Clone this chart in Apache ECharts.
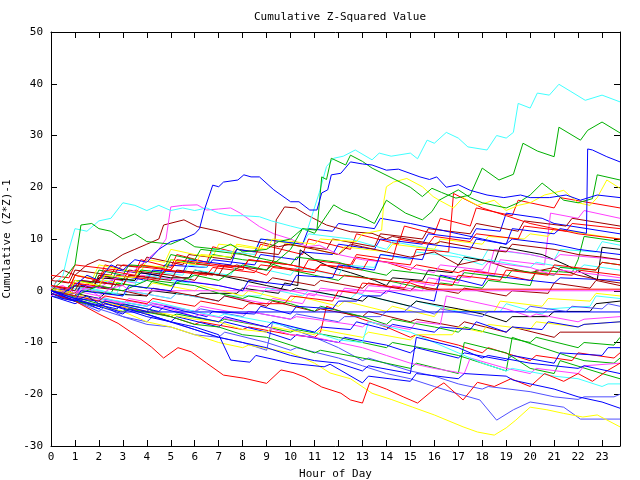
<!DOCTYPE html>
<html><head><meta charset="utf-8">
<script src="https://cdn.jsdelivr.net/npm/echarts@6/dist/echarts.min.js"></script>
<style>html,body{margin:0;padding:0;background:#fff}#c{width:640px;height:480px}</style>
</head><body><div id="c"></div>
<script>
// x ticks (hours) and y ticks
const hourTicks = [0,1,2,3,4,5,6,7,8,9,10,11,12,13,14,15,16,17,18,19,20,21,22,23];
const valueTicks = [-30,-20,-10,0,10,20,30,40,50];

// series: [hour, cumulative value]
const cyanTop = [[0,0.5],[0.5,3],[0.75,8],[1,12],[1.5,11.5],[2,13.5],[2.5,14],[3,17],[3.5,16.5],[4,15.5],[4.5,16.5],[5,15.5],[5.5,16],[6,15.5],[6.5,16],[7,15],[7.5,14.5],[8,14.5],[8.7,14.3],[9.2,13.5],[10,12.5],[10.7,11.7],[11.2,19],[11.5,24],[11.8,25.6],[12.2,26],[12.7,27.2],[13.4,25.3],[13.7,26.6],[14.2,26],[15,26.6],[15.3,25.5],[15.7,29.1],[16,28.5],[16.5,30.6],[17,29.5],[17.4,27.8],[18.2,27.2],[18.6,30],[19,29.5],[19.3,30.6],[19.5,36.2],[20,35.3],[20.3,38.2],[20.8,37.8],[21.2,39.9],[21.7,38.5],[22.3,36.8],[23,37.8],[23.75,36.5]];
const greenTop = [[0,0],[0.5,2],[1,5],[1.25,12.7],[1.7,13],[2,12],[2.5,11.5],[3,10],[3.5,11],[4,9.5],[5,9],[5.5,10],[6,8.5],[7,8],[7.5,9],[8,7.5],[9,8],[9.5,9.5],[10,10],[10.5,12],[11.1,11.7],[11.3,22],[11.5,21.5],[11.7,25.6],[12.3,24.3],[12.5,26.2],[13,25],[13.4,23.7],[14.4,21.4],[15,20],[15.5,18.2],[15.9,19.8],[16.3,19],[16.9,17.9],[17.5,18.5],[18,23.7],[18.7,21.4],[19.3,22.5],[19.7,28.5],[20.3,27],[21,25.9],[21.2,31.6],[22.1,29.1],[22.4,31],[23,32.6],[23.75,30.5]];
const greenSecond = [[0,0],[1,-1],[2,1],[3,0],[4,2],[5,1],[6,3],[7,2],[8,5],[9,4],[10,8],[10.5,12],[11,11.1],[11.8,16.6],[12.2,15.5],[12.8,14.6],[13.5,13],[14,17.5],[14.8,15],[15.5,13.7],[15.9,15.3],[16.2,17.5],[17,19.5],[17.5,18],[18,17],[19,16],[19.5,17],[20,18.5],[20.5,20.8],[21,19],[21.4,17.5],[22,17],[22.6,17.8],[22.8,22.4],[23.75,21.4]];
const blueTop = [[0,0],[0.5,-0.5],[1,1],[1.5,3],[2,2],[2.5,5],[3,4],[3.5,6],[4,5.5],[4.5,8],[5,9.5],[5.5,10],[6,11],[6.2,12],[6.4,15.6],[6.75,20.4],[7,20.1],[7.2,21],[7.8,21.4],[8.05,22.4],[8.35,22],[8.7,22],[9.3,19.5],[10,17.2],[10.35,17.2],[10.8,15.6],[11.1,15.6],[11.3,18.9],[11.55,19.5],[11.7,22.4],[12.1,22.7],[12.5,24.9],[13,24.5],[13.4,24.3],[14,23.3],[14.5,23.5],[15.4,22],[15.8,21.5],[16.1,22],[16.5,20],[17,20.5],[17.5,19.4],[18.2,18.5],[18.9,18],[19.6,18.5],[20,18],[20.8,18],[21.5,18.5],[22.1,17.5],[22.8,18.5],[23.75,18]];
const blueLateJump = [[0,0],[1,-2],[1.25,0],[3,-1],[3.25,1],[5,0],[5.25,2],[7,1],[8,0],[8.25,2],[10,1],[10.25,3],[11.75,2.5],[12,5],[13.5,4],[13.75,7],[15.5,6],[15.75,9],[17.5,8],[17.75,10],[19,9],[19.25,12],[21,11],[21.25,12],[22.35,11.1],[22.4,27.4],[22.6,27.2],[23.2,25.9],[23.75,24.9]];
const yellowHigh = [[0,0],[0.75,-0.5],[1,2],[2,1],[2.25,3],[3.5,2.5],[3.75,5],[4.75,4.5],[5,6],[6,5],[6.25,7],[7.5,6.5],[7.75,9],[9,8],[9.25,10],[11,9],[11.25,10],[12.75,9.5],[13,11],[13.8,11.7],[13.9,17.5],[14,20.1],[14.3,21],[14.85,21.7],[15.5,20.1],[15.95,18.2],[16.2,17.5],[16.8,16],[17.2,18],[17.8,16.5],[18.5,17.5],[19,15.5],[19.5,16.5],[20,17],[20.6,18.5],[21.4,19.4],[22,17],[22.5,16.5],[22.8,18],[23.2,21.4],[23.75,19.8]];
const darkredJump = [[0,1],[1,0],[1.25,2],[3,1],[3.25,3],[5,2],[5.25,4],[7,3],[7.25,5],[9,4],[9.3,6],[9.4,13.7],[9.75,16.2],[10.2,16],[10.7,14.6],[11.5,12.7],[12.5,11.4],[13.4,11.1],[14,10],[14.25,10.5],[16,9],[16.25,9.5],[18,8],[19,7.5],[19.25,9],[21,8],[22,7],[23,6.5],[23.75,6]];
const darkredEarly = [[0,2],[0.5,4],[1,3],[1.5,5],[2,6],[2.5,5.5],[3,7],[3.5,8],[4,9],[4.5,10],[4.7,12.7],[5.55,13.7],[6.1,12.4],[7,11.5],[8,10],[8.9,9.2],[9.5,8.5],[10,9],[11,8],[12,7],[12.5,9],[13,8.5],[14,7.5],[15,6.5],[16,7.5],[17,5],[18,6],[19,4.5],[20,3.5],[21,4.5],[22,3],[23,2],[23.75,1.5]];
const magentaHigh = [[0,-1],[0.5,0],[1,-1],[1.5,1],[2,0.5],[2.5,2],[3,3],[3.5,4],[4,6],[4.5,8],[4.8,10],[5,16.2],[5.5,16.5],[6.1,16.6],[6.5,15.6],[7,15.8],[7.5,16],[7.9,15],[8.3,13.7],[8.7,12.4],[9.3,11],[10,10],[10.7,8.5],[11.2,8.8],[12,7],[13,6],[14,5.5],[15,4.5],[16,3.5],[16.25,5],[18,4],[18.25,5.5],[20,4.5],[21,3],[21.25,4],[23,3],[23.75,2.5]];
const magentaFlat = [[0,0.5],[0.5,1],[1,-0.5],[1.5,0.5],[2,-1],[2.5,0.5],[3,1],[3.3,0],[23.75,0]];
const blueFlat = [[0,-0.5],[0.5,-1.5],[1,-2],[1.5,-1],[2,-2.5],[2.5,-3.5],[2.9,-4.1],[23.75,-4.1]];
const redFlat = [[0,1],[0.75,0.5],[1,3],[2,2],[2.25,4],[3.5,3],[3.75,5],[5,4],[5.25,6],[7,5],[8,4.5],[8.25,6],[10,5],[11,4],[12,3],[13,2.5],[15,1.5],[15.7,0.3],[23.75,0.3]];
const lightBlueFlat = [[0,0],[1,-2],[2,-4],[2.25,-3],[3,-5],[4,-6],[4.25,-5],[6,-7.5],[7,-9],[7.25,-8],[9,-10],[10,-11.5],[10.25,-11],[12,-13],[13,-14.5],[14,-16],[15,-17],[16,-18.5],[16.9,-19.8],[17.9,-21.1],[18.6,-25],[19.3,-23],[20,-21.5],[20.7,-22],[21.4,-22.5],[22.1,-24.8],[23.75,-24.8]];
const blueBottom = [[0,0],[1,-1.5],[2,-3],[3,-4.5],[3.25,-3.5],[5,-6],[6,-7],[7,-8.5],[7.5,-13.4],[8.3,-13.8],[8.55,-12.5],[10,-14],[11.4,-14.7],[11.65,-14.2],[13,-17.8],[13.25,-16.5],[15,-17.5],[15.25,-16],[17,-17],[17.25,-16],[19,-16.5],[19.3,-17.3],[20,-18],[21,-19],[22,-20.5],[23,-21.5],[23.75,-22.7]];
const yellowBottom = [[0,0],[1,-1.5],[2,-3],[3,-4],[4,-6],[5,-7],[6,-8.5],[7,-10],[8,-11],[8.25,-10.5],[10,-12],[11,-14],[11.65,-15.9],[12.5,-17],[13.4,-19.8],[14.2,-21],[15.1,-22.5],[16,-24],[17.2,-26.3],[17.8,-27.3],[18.5,-27.9],[19,-26.5],[19.4,-25],[20,-22.5],[20.7,-23],[21.4,-23.7],[22.2,-24.4],[22.8,-24],[23.75,-26.3]];
const redBottom = [[0,-0.5],[1,-2],[2,-4.5],[2.8,-6.3],[3.5,-8.5],[4.2,-10.9],[4.7,-13],[5.3,-11],[5.85,-11.8],[6.5,-14],[7.2,-16.3],[8.05,-16.9],[9,-17.9],[9.6,-15.3],[10.1,-15.8],[10.6,-16.7],[11.3,-18.6],[12.1,-19.8],[12.5,-21.1],[13,-21.7],[13.3,-17.8],[14,-19],[14.7,-20.5],[15.3,-21.7],[16,-19],[16.4,-17.8],[17.2,-21.1],[17.8,-17.7],[18.5,-18.5],[19.2,-17],[20,-18.5],[20.6,-16],[21.4,-17.5],[22,-16],[22.6,-17.5],[23.2,-15.5],[23.75,-14]];
const red16 = [[0,1],[0.75,0],[1,3],[2,2],[2.25,5],[3.5,3.5],[3.75,6],[5,4.5],[5.25,7],[6.5,5.5],[6.75,8.5],[8.5,6.5],[8.75,9],[10.5,7],[10.75,10],[12.5,8],[12.75,11],[14.5,9],[14.75,12.5],[16,11],[16.25,14],[17.5,12.5],[17.75,16],[19.25,14.5],[19.5,17.5],[21,16],[21.25,18],[23.75,16]];
const magenta14 = [[0,0],[1,-1],[1.25,0.5],[3,-1],[3.25,0],[5,-1.5],[5.25,-0.5],[7,-2],[7.25,-1],[9,-2.5],[9.25,-1.5],[10.5,-2.5],[10.75,-0.5],[12,-1.5],[12.25,0.5],[14,-0.5],[14.25,1],[15.5,0],[15.75,2.5],[17,1.5],[17.25,4],[18.5,3],[18.75,6],[20.6,5],[20.85,15],[22,14],[22.25,15.5],[23.75,14]];
const darkred12 = [[0,2],[0.75,1.5],[1,4],[2.5,3],[2.75,5],[3.75,4.5],[4,6.5],[5.5,5],[5.75,7],[7.5,6],[7.75,8],[9.5,7],[9.75,9],[11.5,8],[11.75,10],[13.5,8.5],[13.75,11],[15.5,10],[15.75,12],[17.5,11],[17.75,13],[19.5,11.5],[19.75,13.5],[21.5,12.5],[21.75,14],[23.75,12.5]];
const red12 = [[0,0],[0.75,-0.5],[1,1.5],[2.5,0.5],[2.75,3],[4.5,2],[4.75,4],[6.5,3],[6.75,4.5],[8.5,3.5],[8.75,5],[10.5,4],[10.75,6],[12.5,5],[12.75,7],[14.25,6],[14.5,10],[15.75,9],[16,10.5],[17.5,9.5],[17.75,11],[19.5,10],[19.75,12.5],[21.5,11.5],[21.75,13],[23.75,12]];
const blue11 = [[0,0.5],[0.75,0],[1,2],[2.5,1.5],[2.75,4],[4.5,3],[4.75,5],[6.5,4.5],[6.75,6],[8.5,5],[8.75,7],[10.25,6],[10.5,7.5],[11.75,7],[12,9],[13.5,8],[13.75,10],[15.5,9],[15.75,11],[17.5,10],[17.75,12],[18.75,11.5],[19,15],[20.5,14],[21,13],[23.75,11]];
const red10 = [[0,3],[0.75,2.5],[1,5],[2.75,4],[3,5],[5,4],[5.25,5.5],[7.5,4.5],[7.75,5],[9,3],[9.25,4.5],[11,3.5],[11.25,5],[13,4],[13.25,6],[15,5],[15.25,8],[16.6,7.5],[16.8,18.8],[18,16],[19,14.5],[20,13],[21,12],[22,11],[23.75,10]];
const green9 = [[0,-1],[0.5,-1.5],[0.75,1],[1.75,0.5],[2,3],[3.5,2],[3.75,4],[4.75,3.5],[5,6],[6.5,5],[6.75,7],[8,6],[9,5.5],[10,4],[11,3],[12,2],[12.25,3],[14,2],[15,1],[16,0],[16.25,1.5],[18,0.5],[18.25,2],[20,1],[20.25,4],[21.75,3.5],[22,6],[22.25,10.5],[23.75,9.5]];
const cyan9 = [[0,-0.5],[0.75,-1],[1,0.5],[1.75,0],[2,2],[3.5,1],[3.75,4],[5.5,3],[5.75,5],[6.5,4.5],[6.75,8],[8.5,7],[8.75,10],[10.5,9],[10.75,11],[12.5,10],[14,8],[14.25,9.5],[16,8],[17,7],[18,6],[18.25,8],[20,7],[21,6],[21.25,8],[22.75,7.5],[23,9.5],[23.75,8.8]];
const blue7 = [[0,0],[1,-1],[1.25,1],[2.5,0.5],[2.75,3],[4,2],[4.25,4],[5.5,3.5],[5.75,6],[7.5,5],[7.75,8],[8.5,7.5],[8.75,10],[10.5,9],[10.75,12],[11.75,11.5],[12,13],[13.5,12],[13.75,14],[15,13],[16,12],[17,11],[18,10],[19,9],[19.25,10],[21,9],[22,8],[23.75,7]];
const black8 = [[0,0],[1,-0.5],[2,-1.5],[2.25,-0.5],[4,-1],[4.25,0],[6,-1],[6.25,-0.5],[7.75,-0.5],[8,0.5],[9.5,-0.5],[9.75,1.5],[10.3,1],[10.4,7.9],[11,6],[11.65,4.6],[12.5,3.5],[13.5,2],[14,1],[14.25,2.5],[15.5,2],[15.75,4],[16.75,3.5],[17,5],[17.25,6.5],[18.5,5.5],[18.75,8.5],[20.5,7],[21.5,5],[22.2,3.4],[22.8,2.1],[23,8.4],[23.75,8]];
const magenta6 = [[0,1],[0.75,0.5],[1,2],[2,1],[2.25,2.5],[3.5,1.5],[3.75,3],[5.5,2],[7,1],[8,0],[8.25,1],[10,0],[11,-1],[11.25,0.5],[13,-0.5],[13.25,1],[14.5,0.5],[14.75,2],[16,1],[16.25,3],[17.5,2.5],[17.75,4],[18.25,3.5],[18.5,8],[20,7],[21,6],[21.25,7],[23.75,6]];
const red3 = [[0,0],[0.25,2],[1.5,1],[1.75,2],[3,1],[3.25,3],[4.5,2.5],[4.75,4],[6,3.5],[6.75,3],[7,5],[8,4],[8.25,6],[10,5],[11,4],[11.25,5],[12.5,4.5],[12.75,6.5],[14,5.5],[15,4],[15.25,5],[17,3.5],[17.25,4],[19,3],[20,2],[20.25,3.5],[21.75,3],[22,4],[23.75,3]];
const blue2 = [[0,-1],[1,-2.5],[1.25,-2],[2.75,-3.5],[3,-2.5],[4.5,-4],[4.75,-3],[6.5,-5],[6.75,-4],[8.5,-4.5],[8.75,-3],[10,-4.5],[10.25,-3],[11.75,-3.5],[12,-2],[12.75,-2],[13,-1],[13.75,-1],[14,0],[16,-2],[16.25,3],[18,1],[18.25,3],[20,2],[21,1.5],[21.25,2.5],[23.75,2]];
const cyanM1 = [[0,1],[1,0],[1.25,1],[3,-1],[3.25,0],[5,-1.5],[5.25,-0.5],[7,-2],[7.25,-1],[8.75,-1],[9,0.5],[10.5,-1],[10.75,0],[12.5,-1.5],[12.75,-0.5],[15,-3],[15.25,-2],[17,-4],[18.75,-4],[19,-2.5],[20.5,-4.5],[20.75,-3.5],[22.5,-3],[22.75,-1],[23.75,-1.5]];
const yellowM1 = [[0,0],[0.75,-0.5],[1,2],[2,1],[2.25,2],[4,0.5],[4.25,1.5],[6,0],[6.25,1],[8,-1],[8.25,0],[10,-2],[10.25,-1],[12,-3],[12.25,-2],[14,-4],[14.25,-3],[16,-5],[16.25,-3.5],[18.5,-4],[18.75,-2],[20.5,-3],[20.75,-1.5],[22.5,-2],[22.75,-0.5],[23.75,-1]];
const magentaM5 = [[0,0],[1,-1.5],[1.25,-1],[3,-2.5],[3.25,-1.5],[5.5,-3.5],[6,-4],[6.25,-3],[8,-4.5],[8.25,-4],[10,-5.5],[10.25,-5],[12.5,-6.5],[13,-7],[13.25,-6],[15,-7.5],[15.25,-6],[16.25,-6.5],[16.5,-1],[19,-3.5],[20,-5],[20.25,-4.5],[22,-6],[22.25,-5.5],[23.75,-5]];
const blueM6 = [[0,-0.5],[2,-3],[2.25,-2],[4,-4],[4.25,-3],[6,-5],[7,-6],[7.25,-5],[9,-7],[9.25,-6],[11,-8],[11.25,-7],[12.5,-7.5],[12.75,-6],[14,-7.5],[14.25,-6.5],[16,-8],[16.25,-7],[17.5,-7.5],[17.75,-6],[19,-8],[19.25,-7],[20.5,-7.5],[20.75,-6],[22,-7],[22.25,-6.5],[23.75,-6]];
const darkredM8 = [[0,0.5],[1,-0.5],[1.25,1],[3,0],[4,-1],[4.25,0.5],[6,-1],[7,-2],[7.25,-1],[9,-3],[9.25,-2],[11,-4],[11.25,-3.5],[13,-5],[13.25,-4],[15,-6],[15.25,-5.5],[17,-7],[17.25,-6],[19,-8],[19.25,-7],[21,-9],[21.25,-8],[23.75,-8]];
const greenM9 = [[0,0],[1,-1],[1.25,0],[2.5,-0.5],[2.75,1.5],[4,0.5],[4.25,2],[6,1],[7,-0.5],[8,-1.5],[8.25,-1],[10,-2.5],[11,-4],[11.25,-3],[13,-5],[14,-6.5],[14.25,-5.5],[16,-7],[17,-8],[17.25,-7],[19,-9],[20,-10],[20.25,-9],[22,-11],[22.25,-10],[23.5,-10.5],[23.75,-9]];
const redM12 = [[0,-0.5],[1,-2],[2,-3],[2.25,-2.5],[4,-4],[5,-5],[6,-6.5],[6.25,-6],[8,-7.5],[8.25,-7],[10,-8.5],[11,-9],[11.25,-8],[11.5,-3],[13,-5.5],[14,-7],[15,-9],[15.25,-8.5],[17,-10.5],[18,-12],[18.25,-11],[20,-13.5],[20.25,-12.5],[21.75,-13.5],[22,-12],[23.5,-13],[23.75,-12]];
const blueM11 = [[0,0],[1,-1.5],[2,-3.5],[2.25,-2.5],[4,-4.5],[5,-6],[5.25,-5],[7,-7],[7.25,-6],[9,-8],[10,-9.5],[10.25,-8.5],[12,-10],[12.25,-9],[14,-10.5],[15,-12],[15.25,-11],[17,-13],[17.25,-12],[19,-13.5],[19.25,-12.5],[21,-14],[21.25,-12],[23,-12.5],[23.25,-11],[23.75,-11]];
const greenM13 = [[0,0],[2,-2.5],[2.25,-2],[4,-3.5],[5,-5],[5.25,-4.5],[7,-6],[7.25,-5.5],[9,-7],[10,-8],[10.25,-7.5],[12,-9],[13,-10],[14,-11],[14.25,-10],[16,-11.5],[17,-12.5],[18,-14],[19,-15.5],[19.25,-9],[20.5,-11],[21.5,-12.5],[22.25,-13.5],[23.5,-14],[23.75,-13]];
const magentaM14 = [[0,1],[1,0],[2,-1],[3,-2.5],[3.25,-2],[5,-3.5],[6,-5],[6.25,-4.5],[8,-6],[9,-7],[10,-8.5],[11,-9],[12,-10],[13,-11],[14,-12.5],[15,-14],[16,-15],[17.25,-16],[17.5,-13],[19,-15],[20,-16],[20.25,-15],[22,-16],[22.25,-14.5],[23.75,-14]];
const blueM16 = [[0,0],[1,-1.5],[2,-2],[3,-3.5],[4,-5],[5,-6],[6,-7.5],[7,-9],[8,-10],[9,-11],[10,-12.5],[11,-13.5],[12,-14],[13,-15.5],[13.25,-14.5],[15,-16],[15.25,-9],[17,-11],[18,-13],[18.25,-12.5],[20,-14],[21,-14.5],[22,-15],[22.25,-14.5],[23.75,-16]];
const greenM17 = [[0,-0.5],[1,-2],[2,-3],[3,-4],[3.25,-3.5],[5,-5],[6,-6.5],[7,-7],[8,-8.5],[9,-9],[10,-10.5],[11,-12],[11.25,-11.5],[13,-13],[14,-14],[15,-15],[15.25,-14],[17,-16],[17.25,-10],[19,-12],[20,-15],[21,-16],[21.25,-13.5],[23,-16],[23.75,-17]];
const cyanM18 = [[0,0],[1,-1],[2,-2],[2.25,-1.5],[4,-3],[4.25,-2],[6,-4],[7,-5],[7.25,-4.5],[9,-6],[10,-7],[11,-8],[12,-9.5],[13,-10],[13.25,-6],[15,-8],[16,-10],[17,-12],[18,-14],[19,-15.5],[19.25,-15],[21,-16.5],[22,-17],[23,-18.5],[23.25,-18],[23.75,-18]];
const lightBlueM20 = [[0,0],[1,-2],[2,-3.5],[3,-5],[4,-6.5],[5,-7],[6,-8.5],[7,-9],[8,-10],[9,-11.5],[9.25,-6],[11,-9],[12,-11],[13,-13.5],[13.25,-13],[15,-15.5],[16,-16.5],[17,-18],[18,-19],[18.25,-18.5],[20,-19.5],[21,-20.5],[22,-21],[22.25,-20.5],[23.5,-20.5],[23.75,-20]];
const yellowM6 = [[0,0.5],[1,-0.5],[2,-2],[3,-3],[4,-4.5],[4.25,-4],[6,-5.5],[7,-6],[8,-7.5],[9,-8],[9.25,-7],[11,-8.5],[11.25,-7.5],[13,-9],[13.25,-8],[15,-9.5],[15.25,-8.5],[16.75,-8.5],[17,-7],[18,-8],[18.25,-6.5],[20,-7.5],[20.25,-6],[22,-7],[22.25,-6.5],[23.75,-6]];
const cyan4 = [[0,0],[0.75,-0.5],[1,1],[2,0],[2.75,-0.5],[3,2],[3.75,1.5],[4,3],[5,2],[5.75,1.5],[6,4],[7.5,3],[7.75,5],[9,4],[10,3],[10.25,4.5],[12,3],[12.25,5],[13.5,4.5],[13.75,7],[15,6],[15.25,7.5],[17,6.5],[18,5],[18.25,6],[20,4.5],[20.25,5.5],[22,4],[22.25,5],[23.75,4]];
const darkred1 = [[0,0],[0.75,-0.5],[1,1],[1.75,0.5],[2,3],[3,2],[3.25,4],[5,3],[6,2],[6.25,3.5],[8,2.5],[9,1.5],[9.25,2.5],[11,1],[11.25,2],[13,0.5],[13.25,1.5],[15,0],[15.25,1],[17,-0.5],[17.25,0.5],[19,-1],[19.25,0],[20.75,-0.5],[21,1.5],[22.5,0.5],[22.75,2],[23.75,1]];
const green5 = [[0,0],[0.75,-0.5],[1,2],[1.75,1.5],[2,4],[3,3],[3.25,5],[4.75,4.5],[5,7],[6,6],[6.25,8],[8,7],[9,6],[10,5],[10.25,6.5],[12,5.5],[13,4],[14,3],[14.25,4],[16,3],[17,2],[17.25,3.5],[19,2.5],[19.25,4],[21,3],[21.25,4.5],[22.75,4],[23,5.5],[23.75,5]];
const lightBlueM3 = [[0,-1],[1,-2],[1.25,-1],[2.75,-2],[4,-3],[4.25,-2.5],[6,-4],[6.25,-3.5],[8,-5],[8.25,-4],[10,-5.5],[10.25,-4.5],[12,-6],[12.25,-5],[13.75,-5],[14,-4],[14.75,-4],[15,-3],[16,-4.5],[16.25,-3.5],[18,-5],[18.25,-4],[19.75,-4],[20,-3],[21.5,-4],[21.75,-3],[23,-3.5],[23.25,-2.5],[23.75,-3]];
const blackM2 = [[0,0],[0.75,-0.5],[1,1],[1.75,0.5],[2,2.5],[3.5,2],[3.75,3.5],[5,2.5],[5.75,2.5],[6,4],[7,3],[8,2],[9,1],[10,0],[10.25,0.5],[12,-1],[13,-2],[13.25,-1],[15,-3],[15.25,-2],[17,-3.5],[18,-4.5],[19,-6],[19.25,-5],[20.75,-5],[21,-4],[22.5,-4],[22.75,-2.5],[23.75,-2]];
const yellow10 = [[0,1],[0.75,0.5],[1,3],[1.75,2.5],[2,5],[3,4],[3.75,3.5],[4,6],[4.75,5.5],[5,8],[6,7],[6.75,6.5],[7,9],[8,8.5],[8.75,8],[9,10],[11,8],[12,7],[12.25,8.5],[14,7.5],[14.25,9],[16,8],[16.25,10],[18,9],[18.25,10.5],[19.75,10],[20,11],[20.75,10.5],[21,12],[23,10.5],[23.75,10]];
const red5 = [[0,0],[2,-2],[2.25,-1],[4,-2.5],[4.25,-1.5],[6,-3],[6.25,-2],[8,-3.5],[8.25,-2.5],[9.75,-2.5],[10,-1],[11.75,-2],[12,0],[12.75,-0.5],[13,1.5],[14.75,0.5],[15,2],[16.75,1],[17,3],[18.75,2],[19,4],[20.75,3],[21,5],[22.75,4],[23,5.5],[23.75,5]];

const RED='#ff0000', GREEN='#00b000', BLUE='#0000ff', MAG='#ff40ff', CYAN='#40ffff', DRED='#a00000', YEL='#ffff00', BLK='#000000', LBLUE='#5050ff';

const seriesList = [
  [red16,RED],[greenM13,GREEN],[blue11,BLUE],[magenta14,MAG],[cyan9,CYAN],[darkred12,DRED],[yellow10,YEL],[black8,BLK],[lightBlueM20,LBLUE],
  [redM12,RED],[green9,GREEN],[blueM11,BLUE],[magenta6,MAG],[cyanM1,CYAN],[darkredM8,DRED],[yellowM1,YEL],[blackM2,BLK],[lightBlueM3,LBLUE],
  [red3,RED],[greenM9,GREEN],[blue7,BLUE],[magentaM5,MAG],[cyan4,CYAN],[darkred1,DRED],[yellowM6,YEL],[lightBlueFlat,LBLUE],
  [red12,RED],[greenM17,GREEN],[blue2,BLUE],[magentaM14,MAG],[cyanM18,CYAN],[darkredEarly,DRED],[yellowBottom,YEL],
  [red10,RED],[green5,GREEN],[blueM6,BLUE],[magentaHigh,MAG],[darkredJump,DRED],[yellowHigh,YEL],
  [redBottom,RED],[greenSecond,GREEN],[blueM16,BLUE],[magentaFlat,MAG],[cyanTop,CYAN],
  [red5,RED],[greenTop,GREEN],[blueBottom,BLUE],[blueLateJump,BLUE],[blueTop,BLUE],[blueFlat,BLUE],[redFlat,RED]
];

const FONT = 'DejaVu Sans Mono';
const chart = echarts.init(document.getElementById('c'), null, {renderer:'canvas'});
function axisCommon(){
  return {
    axisLine:{show:true,onZero:false,lineStyle:{color:'#000',width:1}},
    axisTick:{show:true,inside:true,length:6,lineStyle:{color:'#000'}},
    splitLine:{show:false}
  };
}
chart.setOption({
  animation:false,
  backgroundColor:'#fff',
  title:{text:'Cumulative Z-Squared Value',left:335,top:7,textAlign:'center',
    textStyle:{fontFamily:FONT,fontSize:11,fontWeight:'normal',color:'#000'}},
  grid:{left:51,top:32,right:20,bottom:34,containLabel:false,outerBoundsMode:'none'},
  xAxis:[
    Object.assign({type:'value',min:0,max:23.75,interval:1,position:'bottom',
      name:'Hour of Day',nameLocation:'middle',nameGap:23,
      nameTextStyle:{fontFamily:FONT,fontSize:11,color:'#000'},
      axisLabel:{show:true,showMaxLabel:false,color:'#000',fontFamily:FONT,fontSize:11,margin:6,
        formatter:v=>hourTicks.includes(v)?String(v):''}},axisCommon()),
    Object.assign({type:'value',min:0,max:23.75,interval:1,position:'top',axisLabel:{show:false}},axisCommon())
  ],
  yAxis:[
    Object.assign({type:'value',min:-30,max:50,interval:10,position:'left',
      name:'Cumulative (Z*Z)-1',nameLocation:'middle',nameGap:33,nameRotate:90,
      nameTextStyle:{fontFamily:FONT,fontSize:11,color:'#000'},
      axisLabel:{color:'#000',fontFamily:FONT,fontSize:11,margin:8,
        formatter:v=>valueTicks.includes(v)?String(v):''}},axisCommon()),
    Object.assign({type:'value',min:-30,max:50,interval:10,position:'right',axisLabel:{show:false}},axisCommon())
  ],
  series: seriesList.map(([d,c])=>({
    type:'line',data:d,showSymbol:false,symbol:'none',silent:true,
    lineStyle:{color:c,width:1},z:2
  }))
});
</script></body></html>
